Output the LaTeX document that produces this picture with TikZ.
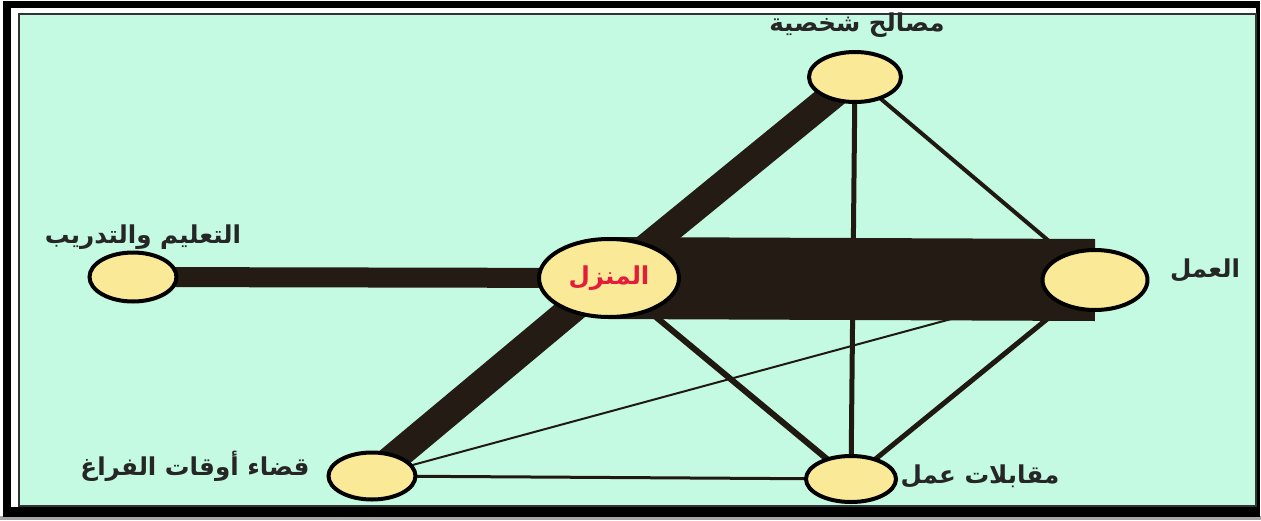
\documentclass[tikz,border=0pt]{standalone}
\usepackage{fontspec}
\newfontfamily\arabicfont[Script=Arabic]{DejaVu Sans}
\TeXXeTstate=1
\usetikzlibrary{shapes.geometric}
\pgfdeclarelayer{frame}
\pgfdeclarelayer{links}
\pgfsetlayers{frame,links,main}
\definecolor{mint}{RGB}{196,250,226}
\definecolor{pale}{RGB}{250,234,152}
\definecolor{bar}{RGB}{36,28,20}
\definecolor{homered}{RGB}{228,28,58}

\begin{document}
\begin{tikzpicture}[x=0.2mm,y=-0.2mm,
    place/.style={ellipse,draw=black,line width=0.8mm,fill=pale,inner sep=0pt},
    tag/.style={font=\arabicfont\bfseries\fontsize{14}{17}\selectfont,text=black!85},
    thick link/.style={draw=bar,line cap=butt},
    thin link/.style={draw=bar!90!black}]
  \useasboundingbox (0,0) rectangle (1261,520);
  \begin{pgfonlayer}{frame}
    \fill[white] (0,0) rectangle (1261,520);
    \fill[black!35] (0,516) rectangle (1261,520);
    \fill[black] (3,1) rectangle (1260,517);
    \fill[white] (11,8) rectangle (1256,507);
    \filldraw[fill=mint,draw=black!80,line width=0.3mm] (19,14) rectangle (1256,506);
  \end{pgfonlayer}

  % places
  \node[place,minimum width=28mm,minimum height=15.6mm] (home) at (609,278)
    {\arabicfont\bfseries\fontsize{14}{17}\selectfont\color{homered}\beginR المنزل\endR};
  \node[place,minimum width=18.4mm,minimum height=10mm] (personal) at (855,77) {};
  \node[place,minimum width=21mm,minimum height=12mm] (work) at (1095,280) {};
  \node[place,minimum width=17.4mm,minimum height=9.8mm] (study) at (133,277) {};
  \node[place,minimum width=17.4mm,minimum height=9.4mm] (leisure) at (372,476) {};
  \node[place,minimum width=18mm,minimum height=9.2mm] (interview) at (851,479) {};

  % labels
  \node[tag] (personal text) at (857,25) {\beginR مصالح شخصية\endR};
  \node[tag] (study text) at (143,237) {\beginR التعليم والتدريب\endR};
  \node[tag] (work text) at (1205,270) {\beginR العمل\endR};
  \node[tag] (leisure text) at (195,466) {\beginR قضاء أوقات الفراغ\endR};
  \node[tag] (interview text) at (980,476) {\beginR مقابلات عمل\endR};

  % links
  \begin{pgfonlayer}{links}
    \draw[thin link,line width=1mm] (personal.center) -- (interview.center);
    \draw[thin link,line width=0.8mm] (personal.center) -- (work.center);
    \draw[thin link,line width=1.2mm] (home.center) -- (interview.center);
    \draw[thin link,line width=1mm] (work.center) -- (interview.center);
    \draw[thin link,line width=0.6mm] (leisure.center) -- (interview.center);
    \draw[thin link,line width=0.4mm] (leisure.center) -- (work.center);
    \draw[thick link,line width=16.4mm] (home.center) -- (work.center);
    \draw[thick link,line width=4mm] (study.center) -- (home.center);
    \draw[thick link,line width=5.6mm] (home.center) -- (personal.center);
    \draw[thick link,line width=5.8mm] (home.center) -- (leisure.center);
  \end{pgfonlayer}
\end{tikzpicture}
\end{document}
